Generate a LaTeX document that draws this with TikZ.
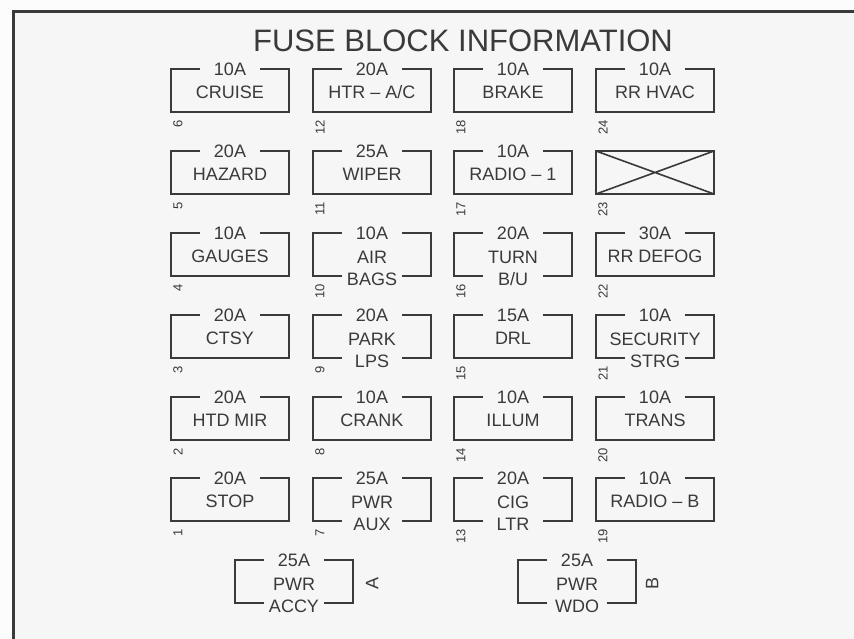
\documentclass[tikz,border=0pt]{standalone}
\usepackage{fontspec}
\setmainfont{Liberation Sans}
\definecolor{ink}{RGB}{58,58,58}
\definecolor{paper}{RGB}{246,246,246}
\definecolor{margin}{RGB}{252,252,252}
% fuse: id, left x, top y, amps, text, slot number
\newcommand{\fusebox}[6]{%
  \draw[fline] (#2+29,#3) -| (#2,#3+43) -| (#2+118,#3) -- (#2+89,#3);
  \node[amp] (#1a) at (#2+59,#3) {#4};
  \node[lbl] (#1t) at (#2+59,#3+23) {#5};
  \node[slot] (#1n) at (#2+7,#3+51) {#6};}
% fuse with a second line sitting in the bottom edge
\newcommand{\fuseboxii}[7]{%
  \draw[fline] (#2+29,#3) -| (#2,#3+43) -- (#2+29,#3+43);
  \draw[fline] (#2+89,#3) -| (#2+118,#3+43) -- (#2+89,#3+43);
  \node[amp] (#1a) at (#2+59,#3) {#4};
  \node[lbl] (#1t) at (#2+59,#3+24) {#5};
  \node[lbl] (#1b) at (#2+59,#3+46) {#6};
  \node[slot] (#1n) at (#2+7,#3+51) {#7};}

\begin{document}
\begin{tikzpicture}[x=1pt,y=-1pt,
    fline/.style={draw=ink,line width=1.6pt},
    lbl/.style={font=\fontsize{18}{18}\selectfont,text=ink,inner sep=0pt,text height=12.9pt,text depth=0pt},
    amp/.style={lbl},
    slot/.style={font=\fontsize{13}{13}\selectfont,text=ink,inner sep=0pt,rotate=90,anchor=east},
    side/.style={font=\fontsize{18}{18}\selectfont,text=ink,inner sep=0pt,rotate=90,text height=12.9pt,text depth=0pt}]
  \useasboundingbox (0,0) rectangle (854,639);
  \fill[margin] (0,0) rectangle (854,639);
  \fill[paper] (13,12) rectangle (854,639);
  \draw[ink,line width=3pt] (854,12) -- (13,12) -- (13,639);

  \node[font=\fontsize{31}{31}\selectfont,text=ink,inner sep=0pt,text height=22.2pt,text depth=0pt]
    (title) at (463,40) {FUSE BLOCK INFORMATION};

  % row 1
  \fusebox{f6}{171}{69}{10A}{CRUISE}{6}
  \fusebox{f12}{313}{69}{20A}{HTR – A/C}{12}
  \fusebox{f18}{454}{69}{10A}{BRAKE}{18}
  \fusebox{f24}{596}{69}{10A}{RR HVAC}{24}
  % row 2
  \fusebox{f5}{171}{151}{20A}{HAZARD}{5}
  \fusebox{f11}{313}{151}{25A}{WIPER}{11}
  \fusebox{f17}{454}{151}{10A}{RADIO – 1}{17}
  \draw[fline] (596,151) rectangle (714,194) (596,151) -- (714,194) (596,194) -- (714,151);
  \node[slot] (f23n) at (603,202) {23};
  % row 3
  \fusebox{f4}{171}{233}{10A}{GAUGES}{4}
  \fuseboxii{f10}{313}{233}{10A}{AIR}{BAGS}{10}
  \fuseboxii{f16}{454}{233}{20A}{TURN}{B/U}{16}
  \fusebox{f22}{596}{233}{30A}{RR DEFOG}{22}
  % row 4
  \fusebox{f3}{171}{315}{20A}{CTSY}{3}
  \fuseboxii{f9}{313}{315}{20A}{PARK}{LPS}{9}
  \fusebox{f15}{454}{315}{15A}{DRL}{15}
  \fuseboxii{f21}{596}{315}{10A}{SECURITY}{STRG}{21}
  % row 5
  \fusebox{f2}{171}{397}{20A}{HTD MIR}{2}
  \fusebox{f8}{313}{397}{10A}{CRANK}{8}
  \fusebox{f14}{454}{397}{10A}{ILLUM}{14}
  \fusebox{f20}{596}{397}{10A}{TRANS}{20}
  % row 6
  \fusebox{f1}{171}{478}{20A}{STOP}{1}
  \fuseboxii{f7}{313}{478}{25A}{PWR}{AUX}{7}
  \fuseboxii{f13}{454}{478}{20A}{CIG}{LTR}{13}
  \fusebox{f19}{596}{478}{10A}{RADIO – B}{19}
  % circuit breakers
  \fuseboxii{ca}{235}{560}{25A}{PWR}{ACCY}{}
  \node[side] (cal) at (372,583) {A};
  \fuseboxii{cb}{518}{560}{25A}{PWR}{WDO}{}
  \node[side] (cbl) at (652,583) {B};
\end{tikzpicture}
\end{document}
